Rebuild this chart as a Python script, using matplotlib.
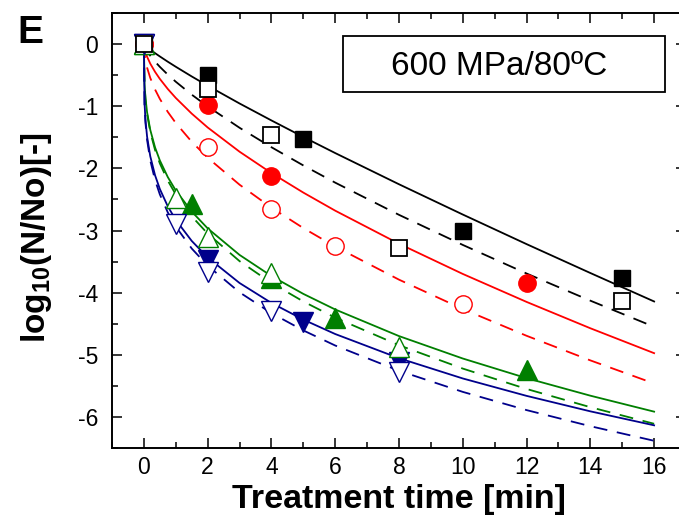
import matplotlib
matplotlib.use('Agg')
import matplotlib.pyplot as plt
from matplotlib.ticker import MultipleLocator, FixedLocator
from matplotlib.patches import Rectangle

plt.rcParams['font.family'] = ['Liberation Sans', 'DejaVu Sans']
plt.rcParams['axes.unicode_minus'] = False
plt.rcParams['mathtext.fontset'] = 'custom'
plt.rcParams['mathtext.rm'] = 'Liberation Sans:bold'
plt.rcParams['mathtext.bf'] = 'Liberation Sans:bold'
plt.rcParams['lines.scale_dashes'] = False

# ---- fitted curves ----
t_fit = [0, 0.02, 0.05, 0.1, 0.2, 0.35, 0.5, 0.75, 1, 1.5, 2, 3, 4, 5, 6, 8, 10, 12, 14, 16]
black_solid = [0, -0.012, -0.026, -0.049, -0.089, -0.146, -0.199, -0.284, -0.365, -0.521, -0.670,
               -0.956, -1.229, -1.495, -1.754, -2.256, -2.743, -3.219, -3.684, -4.142]
black_dash = [0, -0.035, -0.069, -0.114, -0.188, -0.283, -0.366, -0.492, -0.606, -0.814, -1.003,
              -1.347, -1.660, -1.953, -2.230, -2.748, -3.232, -3.692, -4.129, -4.550]
red_solid = [0, -0.074, -0.131, -0.203, -0.315, -0.447, -0.560, -0.723, -0.867, -1.119, -1.342,
             -1.732, -2.076, -2.390, -2.681, -3.213, -3.699, -4.149, -4.573, -4.974]
red_dash = [0, -0.162, -0.263, -0.378, -0.545, -0.731, -0.882, -1.092, -1.270, -1.572, -1.829,
            -2.263, -2.633, -2.961, -3.259, -3.791, -4.264, -4.694, -5.090, -5.462]
green_solid = [0, -0.643, -0.871, -1.097, -1.381, -1.663, -1.872, -2.141, -2.356, -2.695, -2.966,
               -3.393, -3.733, -4.020, -4.271, -4.699, -5.060, -5.376, -5.658, -5.915]
green_dash = [0, -0.655, -0.890, -1.121, -1.414, -1.704, -1.920, -2.198, -2.420, -2.771, -3.050,
              -3.493, -3.845, -4.142, -4.403, -4.846, -5.222, -5.550, -5.843, -6.110]
blue_solid = [0, -0.950, -1.227, -1.489, -1.806, -2.111, -2.332, -2.612, -2.830, -3.168, -3.434,
              -3.845, -4.166, -4.434, -4.666, -5.055, -5.381, -5.661, -5.910, -6.135]
blue_dash = [0, -0.982, -1.269, -1.541, -1.872, -2.189, -2.419, -2.710, -2.937, -3.290, -3.566,
             -3.995, -4.330, -4.608, -4.851, -5.257, -5.597, -5.890, -6.149, -6.384]

# ---- experimental points ----
sq_filled_t = [0, 2, 5, 10, 15]
sq_filled_y = [0, -0.50, -1.52, -3.00, -3.77]
sq_open_t = [0, 2, 4, 8, 15]
sq_open_y = [0, -0.73, -1.46, -3.28, -4.13]
circ_filled_t = [0, 2, 4, 12]
circ_filled_y = [0, -0.98, -2.13, -3.85]
circ_open_t = [0, 2, 4, 6, 10]
circ_open_y = [0, -1.65, -2.66, -3.25, -4.19]
tri_filled_t = [0, 1.5, 4, 6, 12]
tri_filled_y = [0, -2.57, -3.76, -4.40, -5.24]
tri_open_t = [0, 1, 2, 4, 8]
tri_open_y = [0, -2.47, -3.10, -3.69, -4.87]
inv_filled_t = [0, 2, 5, 8]
inv_filled_y = [0, -3.47, -4.48, -5.12]
inv_open_t = [0, 1, 2, 4, 8]
inv_open_y = [0, -2.90, -3.66, -4.30, -5.27]

xticks = [0, 2, 4, 6, 8, 10, 12, 14, 16]
xticklabels = ['0', '2', '4', '6', '8', '10', '12', '14', '16']
yticks = [0, -1, -2, -3, -4, -5, -6]
yticklabels = ['0', '-1', '-2', '-3', '-4', '-5', '-6']

BLACK = '#000000'
RED = '#ff0000'
GREEN = '#007f00'
BLUE = '#00008b'

W, H = 679, 529
fig = plt.figure(figsize=(W / 100, H / 100), dpi=100)
ax = fig.add_axes([112 / W, (H - 448) / H, (686 - 112) / W, (448 - 13) / H])
ax.set_xlim(-1, 17)
ax.set_ylim(-6.5, 0.5)

lw = 1.3
dash = (10, 7)
ax.plot(t_fit, black_solid, color=BLACK, lw=lw, zorder=2)
ax.plot(t_fit, black_dash, color=BLACK, lw=lw, dashes=dash, zorder=2)
ax.plot(t_fit, red_solid, color=RED, lw=lw, zorder=2)
ax.plot(t_fit, red_dash, color=RED, lw=lw, dashes=dash, zorder=2)
ax.plot(t_fit, green_solid, color=GREEN, lw=lw, zorder=2)
ax.plot(t_fit, green_dash, color=GREEN, lw=lw, dashes=dash, zorder=2)
ax.plot(t_fit, blue_solid, color=BLUE, lw=lw, zorder=2)
ax.plot(t_fit, blue_dash, color=BLUE, lw=lw, dashes=dash, zorder=2)

mew = 1.0
# filled markers first
ax.plot(circ_filled_t, circ_filled_y, 'o', ms=12.5, mfc=RED, mec=RED, mew=mew, zorder=3)
ax.plot(tri_filled_t, tri_filled_y, '^', ms=14, mfc=GREEN, mec=GREEN, mew=mew, zorder=3)
ax.plot(inv_filled_t, inv_filled_y, 'v', ms=14, mfc=BLUE, mec=BLUE, mew=mew, zorder=3)
ax.plot(sq_filled_t, sq_filled_y, 's', ms=12, mfc=BLACK, mec=BLACK, mew=mew, zorder=3)
# open markers on top
ax.plot(circ_open_t, circ_open_y, 'o', ms=12.5, mfc='white', mec=RED, mew=mew, zorder=4)
ax.plot(tri_open_t, tri_open_y, '^', ms=14, mfc='white', mec=GREEN, mew=mew, zorder=4)
ax.plot(inv_open_t, inv_open_y, 'v', ms=14, mfc='white', mec=BLUE, mew=mew, zorder=4)
ax.plot(sq_open_t, sq_open_y, 's', ms=12, mfc='white', mec=BLACK, mew=1.3, zorder=4)

# axes styling
for sp in ax.spines.values():
    sp.set_linewidth(1.4)
ax.xaxis.set_major_locator(FixedLocator(xticks))
ax.set_xticklabels(xticklabels)
ax.yaxis.set_major_locator(FixedLocator(yticks))
ax.set_yticklabels(yticklabels)
ax.xaxis.set_minor_locator(MultipleLocator(1))
ax.yaxis.set_minor_locator(MultipleLocator(0.5))
ax.tick_params(which='both', direction='in', top=True, right=True, width=1.1)
ax.tick_params(which='major', length=7.5)
ax.tick_params(which='minor', length=4)
ax.tick_params(axis='x', which='major', labelsize=16.5, pad=6)
ax.tick_params(axis='y', which='major', labelsize=16.5, pad=10)

ax.set_xlabel('Treatment time [min]', fontsize=24.5, fontweight='bold')
ax.xaxis.set_label_coords(0.5, -0.082)
ax.set_ylabel(r'log$_{\mathrm{10}}$(N/No)[-]', fontsize=24, fontweight='bold')
ax.yaxis.set_label_coords(-0.101, 0.483)

# annotation box
ax.add_patch(Rectangle((6.23, -0.778), 16.34 - 6.23, 0.124 + 0.778, facecolor='white',
                       edgecolor='black', lw=1.3, zorder=5))
ax.text(11.13, -0.36, '600 MPa/80\u00baC', fontsize=24, ha='center', va='center', zorder=6)

fig.text(17 / W, (H - 43) / H, 'E', fontsize=28, fontweight='bold', ha='left', va='baseline')

fig.savefig('out.png', dpi=100)
